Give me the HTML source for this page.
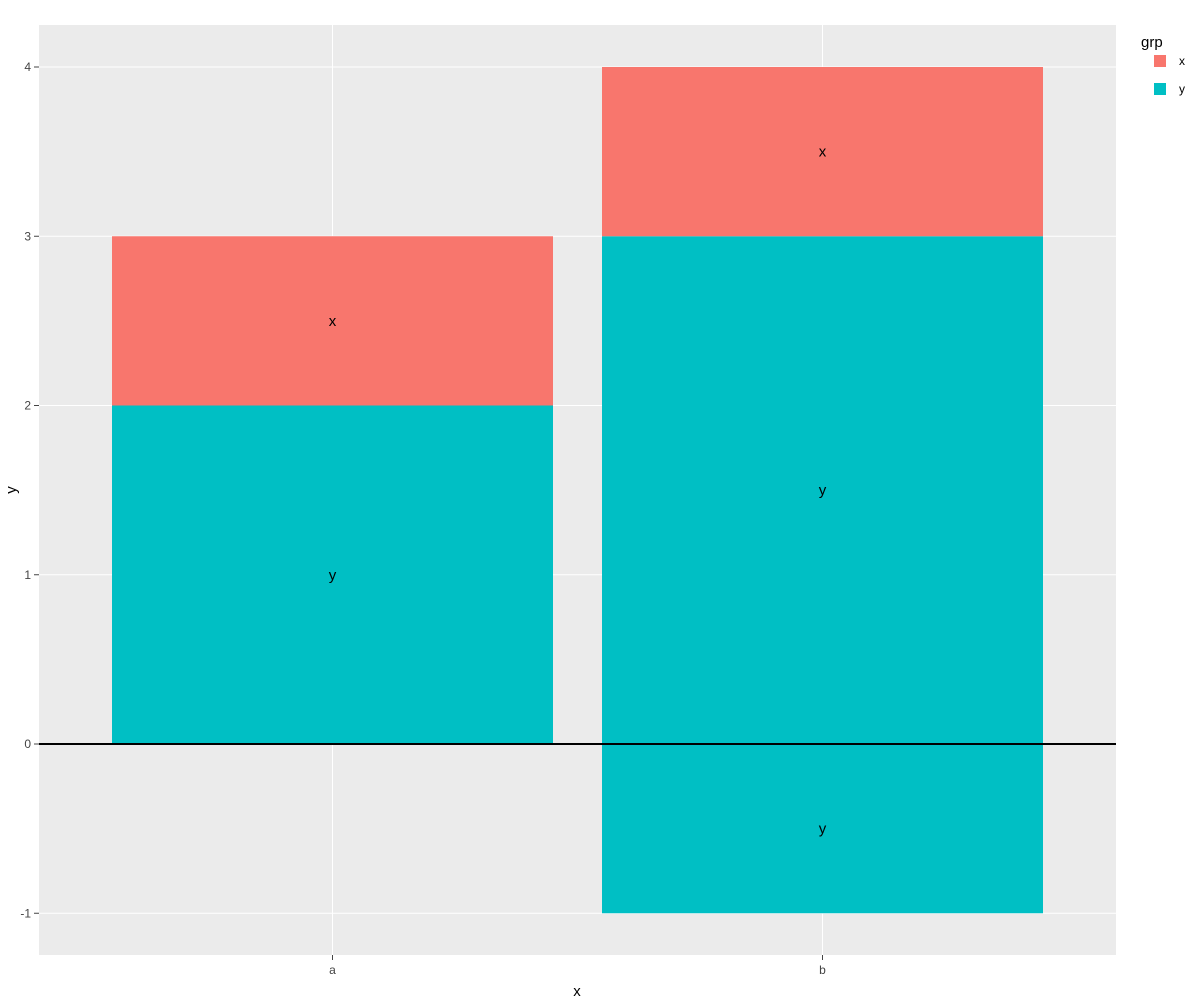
<!DOCTYPE html>
<html><head><meta charset="utf-8"><style>
body{margin:0;background:#fff;font-family:"Liberation Sans",sans-serif}
</style></head><body>
<svg id="chart" width="1200" height="1000" xmlns="http://www.w3.org/2000/svg"></svg>
<script>
const categories = ["a","b"];
const segGroups = ["y","x","y"];
const segCats = ["a","a","b"];
const segStarts = [0,2,0];
const segEnds = [2,3,3];
const segGroups2 = ["x","y"];
const segCats2 = ["b","b"];
const segStarts2 = [3,-1];
const segEnds2 = [4,0];
const yTicks = [-1,0,1,2,3,4];
const yTickLabels = ["-1","0","1","2","3","4"];
const legendGroups = ["x","y"];

const colors = {x:"#F8766D", y:"#00BFC4"};
const NS="http://www.w3.org/2000/svg";
const svg=document.getElementById('chart');
const L=39,R=1116,T=25,B=955;
const yScale=v=>744 - v*169.25;
const xScale=c=>332.5 + categories.indexOf(c)*490;
const bw=441;
function mk(tag,attrs,parent){const e=document.createElementNS(NS,tag);for(const k in attrs)e.setAttribute(k,attrs[k]);(parent||svg).appendChild(e);return e;}

const panel=mk('rect',{x:L,y:T,width:R-L,height:B-T,fill:'#EBEBEB'});



yTicks.forEach((v,i)=>{
  const g=mk('line',{x1:L,x2:R,y1:yScale(v),y2:yScale(v),stroke:'#fff','stroke-width':1});
  
  
  const tk=mk('line',{x1:34,x2:39,y1:yScale(v),y2:yScale(v),stroke:'#444','stroke-width':1});
  
  
  const t=mk('text',{x:31,y:yScale(v)+4,'text-anchor':'end','font-size':12,fill:'#444'});
  t.textContent=yTickLabels[i];
  
  
});
categories.forEach(c=>{
  const g=mk('line',{x1:xScale(c),x2:xScale(c),y1:T,y2:B,stroke:'#fff','stroke-width':1});
  
  
  const tk=mk('line',{x1:xScale(c),x2:xScale(c),y1:B,y2:B+5,stroke:'#444','stroke-width':1});
  
  
  const t=mk('text',{x:xScale(c),y:974,'text-anchor':'middle','font-size':12,fill:'#444'});
  t.textContent=c;
  
  
});

const allG=segGroups.concat(segGroups2), allC=segCats.concat(segCats2),
 allS=segStarts.concat(segStarts2), allE=segEnds.concat(segEnds2);
allG.forEach((g,i)=>{
  const y1=yScale(allE[i]), y2=yScale(allS[i]);
  const r=mk('rect',{x:xScale(allC[i])-bw/2,y:y1,width:bw,height:y2-y1,fill:colors[g]});
  
  
});
allG.forEach((g,i)=>{
  const t=mk('text',{x:xScale(allC[i]),y:yScale((allS[i]+allE[i])/2)+5,'text-anchor':'middle','font-size':15,fill:'#000'});
  t.textContent=g;
  
  
});

const zl=mk('line',{x1:L,x2:R,y1:yScale(0),y2:yScale(0),stroke:'#000','stroke-width':2});



const xt=mk('text',{x:577,y:996,'text-anchor':'middle','font-size':15,fill:'#000'});
xt.textContent='x';


const yt=mk('text',{x:16,y:490,'text-anchor':'middle','font-size':15,fill:'#000',transform:'rotate(-90 16 490)'});
yt.textContent='y';



const lt=mk('text',{x:1141,y:47,'font-size':15,fill:'#000'});
lt.textContent='grp';


legendGroups.forEach((g,i)=>{
  const y=61+i*28;
  const s=mk('rect',{x:1154,y:y-6,width:12,height:12,fill:colors[g]});
  
  
  const t=mk('text',{x:1179,y:y+4,'font-size':12,fill:'#000'});
  t.textContent=g;
  
  
});
</script>
</body></html>
